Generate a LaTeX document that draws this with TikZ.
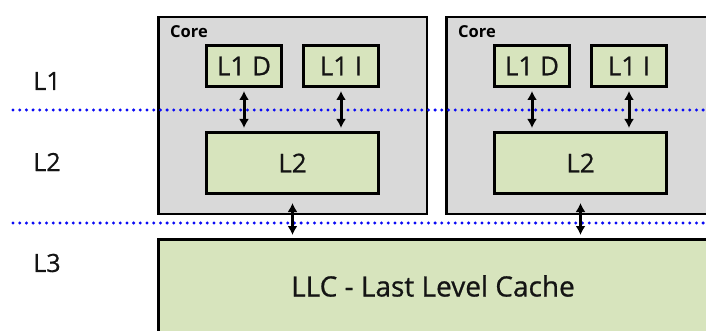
\documentclass[tikz,border=0pt]{standalone}
\usepackage{fontspec}
\setmainfont{Open Sans}
\newfontfamily\medfont{Open Sans}[FakeBold=0.7]
\usetikzlibrary{arrows.meta}
\definecolor{cachegreen}{HTML}{D7E4BD}
\definecolor{coregray}{HTML}{D9D9D9}
\definecolor{dotblue}{HTML}{0A0AF5}
\tikzset{
  corebox/.style={draw=black, fill=coregray, line width=2.5pt, minimum width=268.5pt, minimum height=196.5pt, inner sep=0pt},
  cachebox/.style={draw=black, fill=cachegreen, line width=3pt, inner sep=0pt, font=\medfont\fontsize{26}{30}\selectfont, text=black!92},
  lonebox/.style={cachebox, minimum width=75pt, minimum height=41pt},
  ltwobox/.style={cachebox, minimum width=172pt, minimum height=61pt},
  corelabel/.style={font=\bfseries\fontsize{16.5}{19}\selectfont, anchor=west, inner sep=0pt},
  levellabel/.style={font=\medfont\fontsize{25}{29}\selectfont, inner sep=0pt, text=black!92},
  levelline/.style={dotblue, line width=3.3pt, line cap=round, dash pattern=on 0pt off 6.7pt},
  biarrow/.style={{Latex[length=9pt,width=10pt]}-{Latex[length=9pt,width=10pt]}, line width=3pt, shorten >=3pt, shorten <=3pt}
}
\begin{document}
\begin{tikzpicture}[x=1pt,y=-1pt]
\clip (0,0) rectangle (706,331);
\fill[white] (0,0) rectangle (706,331);
% cores
\node[corebox] (core1) at (292.5,115.5) {};
\node[corebox] (core2) at (580.5,115.5) {};
\node[corelabel] (core1lbl) at (170,32) {Core};
\node[corelabel] (core2lbl) at (458,32) {Core};
% core 1 caches
\node[lonebox] (c1d) at (244,66) {L1 D};
\node[lonebox] (c1i) at (341,66) {L1 I};
\node[ltwobox] (c1l2) at (292.5,163) {L2};
% core 2 caches
\node[lonebox] (c2d) at (532,66) {L1 D};
\node[lonebox] (c2i) at (629,66) {L1 I};
\node[ltwobox] (c2l2) at (580.5,163) {L2};
% LLC
\node[cachebox, minimum width=549pt, minimum height=93pt, font=\medfont\fontsize{28}{32}\selectfont] (llc) at (433,286) {LLC - Last Level Cache};
% level labels
\node[levellabel] (lab1) at (47,81) {L1};
\node[levellabel] (lab2) at (47,162) {L2};
\node[levellabel] (lab3) at (47,263) {L3};
% level separators
\coordinate (sep1a) at (13,110);
\coordinate (sep1b) at (706,110);
\coordinate (sep2a) at (13,223);
\coordinate (sep2b) at (706,223);
\draw[levelline] (sep1a) -- (sep1b);
\draw[levelline] (sep2a) -- (sep2b);
% arrows
\draw[biarrow] (c1d.south) -- (c1d.south |- c1l2.north);
\draw[biarrow] (c1i.south) -- (c1i.south |- c1l2.north);
\draw[biarrow] (c2d.south) -- (c2d.south |- c2l2.north);
\draw[biarrow] (c2i.south) -- (c2i.south |- c2l2.north);
\draw[biarrow, shorten <=8pt] (c1l2.south) -- (c1l2.south |- llc.north);
\draw[biarrow, shorten <=8pt] (c2l2.south) -- (c2l2.south |- llc.north);
\end{tikzpicture}
\end{document}
